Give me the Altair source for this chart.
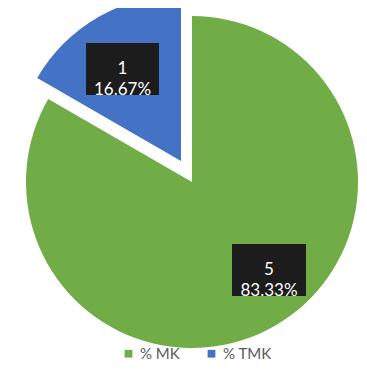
import altair as alt
import pandas as pd

categories = ["% MK", "% TMK"]
counts = [5, 1]
colors = ["#70AD47", "#4472C4"]

total = sum(counts)
df = pd.DataFrame({
    "cat": categories,
    "count": counts,
    "idx": list(range(len(categories))),
})
df["end"] = df["count"].cumsum() / total
df["start"] = df["end"] - df["count"] / total
df["label"] = [f"{c}\n{c / total:.2%}" for c in counts]

CX, CY, R = 184, 174, 166

base = alt.Chart(df)

color = alt.Color(
    "cat:N",
    scale=alt.Scale(domain=categories, range=colors),
    legend=alt.Legend(
        title=None, orient="none", legendX=113, legendY=338,
        direction="horizontal", symbolType="square", symbolSize=60,
        labelFontSize=15, labelColor="#595959", labelFont="Lato",
        columnPadding=24, symbolStrokeWidth=0,
    ),
)
theta = alt.Theta("start:Q", scale=alt.Scale(domain=[0, 1]))
theta2 = alt.Theta2("end:Q")

green = base.transform_filter("datum.idx == 0").mark_arc(radius=R).encode(
    theta=theta, theta2=theta2, color=color,
    x=alt.value(CX), y=alt.value(CY),
)
blue = base.transform_filter("datum.idx == 1").mark_arc(
    radius=R, xOffset=-11, yOffset=-21
).encode(
    theta=theta, theta2=theta2, color=color,
    x=alt.value(CX), y=alt.value(CY),
)

def label_layer(i, x0, y0, x1, y1):
    box = base.transform_filter(f"datum.idx == {i}").mark_rect(
        color="#1c1c1c"
    ).encode(
        x=alt.value(x0), x2=alt.value(x1), y=alt.value(y0), y2=alt.value(y1)
    )
    txt = base.transform_filter(f"datum.idx == {i}").mark_text(
        lineBreak="\n", color="white", fontSize=17, font="Lato",
        lineHeight=21, baseline="middle", align="center",
    ).encode(
        text="label:N",
        x=alt.value((x0 + x1) / 2), y=alt.value((y0 + y1) / 2),
    )
    return box + txt

chart = alt.layer(
    green, blue,
    label_layer(1, 78, 35, 151, 87),
    label_layer(0, 224, 236, 298, 288),
).properties(
    width=351, height=353,
    autosize=alt.AutoSizeParams(type="none"),
    padding=0,
).configure_view(stroke=None)

chart.save("out.html", embed_options={"renderer": "svg", "actions": False})
